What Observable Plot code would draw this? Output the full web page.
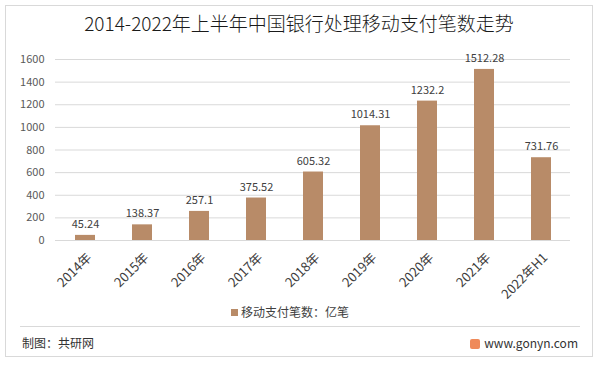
<!DOCTYPE html>
<html>
<head>
<meta charset="utf-8">
<script src="https://cdn.jsdelivr.net/npm/d3@7"></script>
<script src="https://cdn.jsdelivr.net/npm/@observablehq/plot@0.6"></script>
<style>
  html, body { margin: 0; padding: 0; background: #fff; }
  body { width: 600px; height: 366px; position: relative; overflow: hidden;
         font-family: "Noto Sans CJK SC", "Noto Sans", sans-serif; }
  #frame { position: absolute; left: 5px; top: 5px; width: 588px; height: 352px;
           border: 1px solid #d9d9d9; box-sizing: border-box; }
  #title { position: absolute; left: 5px; top: 9px; width: 588px; text-align: center;
           font-size: 19px; font-weight: 300; color: #1a1a1a; }
  #chart { position: absolute; left: 0; top: 0; }
  #legend { position: absolute; top: 303px; left: 0; width: 580px; text-align: center;
            font-size: 12px; color: #404040; }
  #legend .sw { display: inline-block; width: 7px; height: 7px; margin-right: 3px; vertical-align: 1px; }
  #sep { position: absolute; left: 20px; top: 326px; width: 560px; height: 1px; background: #d9d9d9; }
  #credit { position: absolute; left: 22px; top: 334px; font-size: 12px; color: #333; }
  #site { position: absolute; right: 22px; top: 334px; font-size: 12px; color: #333; }
  #site .ic { display: inline-block; width: 10px; height: 10px; background: #ef8a5a; border-radius: 2px;
              margin-right: 4px; vertical-align: -1px; }
</style>
</head>
<body>
<div id="chart"></div>
<div id="frame"></div>
<div id="title">2014-2022年上半年中国银行处理移动支付笔数走势</div>
<div id="legend"></div>
<div id="sep"></div>
<div id="credit">制图：共研网</div>
<div id="site"><span class="ic"></span>www.gonyn.com</div>
<script>
const categories = ["2014年", "2015年", "2016年", "2017年", "2018年", "2019年", "2020年", "2021年", "2022年H1"];
const values = [45.24, 138.37, 257.1, 375.52, 605.32, 1014.31, 1232.2, 1512.28, 731.76];
const valueLabels = ["45.24", "138.37", "257.1", "375.52", "605.32", "1014.31", "1232.2", "1512.28", "731.76"];
const yTicks = [0, 200, 400, 600, 800, 1000, 1200, 1400, 1600];
const seriesName = "移动支付笔数：亿笔";
const barColor = "#b88b68";

const data = categories.map((c, i) => ({ cat: c, value: values[i], label: valueLabels[i] }));

const chart = Plot.plot({
  width: 600,
  height: 300,
  marginTop: 59,
  marginBottom: 60,
  marginLeft: 55,
  marginRight: 30,
  style: { fontFamily: "'Noto Sans CJK SC', 'Noto Sans', sans-serif", background: "transparent", overflow: "visible" },
  x: { domain: categories, paddingInner: 0.65, paddingOuter: 0.325, label: null },
  y: { domain: [0, 1600], label: null },
  marks: [
    Plot.gridY(yTicks, { stroke: "#d9d9d9", strokeOpacity: 1 }),
    Plot.axisY(yTicks, { tickSize: 0, tickPadding: 11, fontSize: 11, fill: "#595959", label: null, tickFormat: d => String(d) }),
    Plot.axisX({ tickSize: 0, tickPadding: 15, tickRotate: -45, fontSize: 13, fill: "#404040", label: null, dx: 4 }),
    Plot.barY(data, { x: "cat", y: "value", fill: barColor }),
    Plot.text(data, { x: "cat", y: "value", text: "label", dy: -11, fontSize: 11, fill: "#404040" })
  ]
});
document.getElementById("chart").appendChild(chart);

document.getElementById("legend").innerHTML =
  `<span class="sw" style="background:${barColor}"></span>${seriesName}`;
</script>
</body>
</html>
